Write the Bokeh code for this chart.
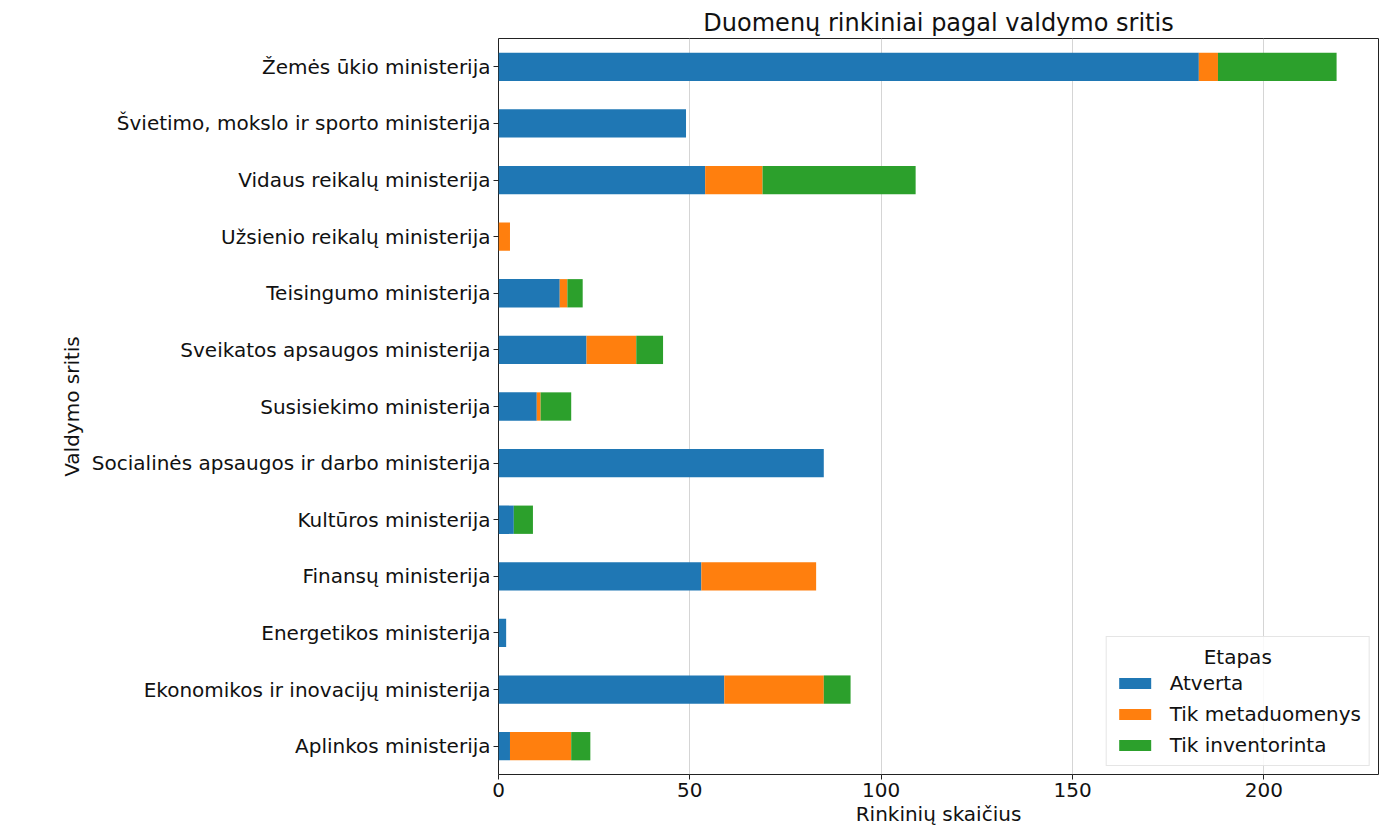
from bokeh.plotting import figure
from bokeh.models import FactorRange, Range1d, Legend, LegendItem, ColumnDataSource, FixedTicker
from bokeh.embed import file_html
from bokeh.resources import INLINE

# Data (top to bottom as displayed)
ministries = [
    "Žemės ūkio ministerija",
    "Švietimo, mokslo ir sporto ministerija",
    "Vidaus reikalų ministerija",
    "Užsienio reikalų ministerija",
    "Teisingumo ministerija",
    "Sveikatos apsaugos ministerija",
    "Susisiekimo ministerija",
    "Socialinės apsaugos ir darbo ministerija",
    "Kultūros ministerija",
    "Finansų ministerija",
    "Energetikos ministerija",
    "Ekonomikos ir inovacijų ministerija",
    "Aplinkos ministerija",
]
atverta =          [183, 49, 54, 0, 16, 23, 10, 85, 4, 53, 2, 59, 3]
tik_metaduomenys = [5,   0,  15, 3, 2,  13, 1,  0,  0, 30, 0, 26, 16]
tik_inventorinta = [31,  0,  40, 0, 4,  7,  8,  0,  5, 0,  0, 7,  5]
stages = ["Atverta", "Tik metaduomenys", "Tik inventorinta"]
colors = ["#1f77b4", "#ff7f0e", "#2ca02c"]
x_ticks = [0, 50, 100, 150, 200]
legend_title = "Etapas"

FONT = "DejaVu Sans"

source = ColumnDataSource(dict(
    ministry=ministries,
    Atverta=atverta,
    **{"Tik metaduomenys": tik_metaduomenys, "Tik inventorinta": tik_inventorinta},
))

p = figure(
    width=1380, height=828,
    y_range=FactorRange(factors=list(reversed(ministries))),
    x_range=Range1d(0, 229.95),
    output_backend="svg", toolbar_location=None,
    min_border_left=498, min_border_right=2, min_border_top=38, min_border_bottom=54,
    title="Duomenų rinkiniai pagal valdymo sritis",
)

renderers = p.hbar_stack(stages, y="ministry", height=0.5, color=colors, source=source,
                         line_color=None)

p.title.text_font = FONT
p.title.text_font_size = "24px"
p.title.text_font_style = "normal"
p.title.align = "center"
p.title.text_color = "#111111"
p.title.standoff = 4

p.xaxis.ticker = FixedTicker(ticks=x_ticks)
p.xaxis.axis_label = "Rinkinių skaičius"
p.yaxis.axis_label = "Valdymo sritis"
for ax in (p.xaxis[0], p.yaxis[0]):
    ax.axis_label_text_font = FONT
    ax.axis_label_text_font_size = "20px"
    ax.axis_label_text_font_style = "normal"
    ax.axis_label_text_color = "#111111"
    ax.major_label_text_font = FONT
    ax.major_label_text_font_size = "20px"
    ax.major_label_text_color = "#111111"
    ax.axis_line_color = None
    ax.major_tick_line_color = "#222222"
    ax.major_tick_out = 5
    ax.major_tick_in = 0
    ax.minor_tick_line_color = None
    ax.major_label_standoff = 3
p.xaxis.axis_label_standoff = 2
p.yaxis.axis_label_standoff = 5

p.outline_line_color = "#222222"
p.outline_line_width = 1
p.xgrid.grid_line_color = "#d5d5d5"
p.xgrid.grid_line_width = 1
p.ygrid.grid_line_color = None
p.background_fill_color = "white"
p.border_fill_color = "white"

legend = Legend(
    items=[LegendItem(label=s, renderers=[r]) for s, r in zip(stages, renderers)],
    location="bottom_right",
    title="\u00a0" * 14 + legend_title,  # non-breaking spaces centre the title
)
legend.title_text_font = FONT
legend.title_text_font_size = "20px"
legend.title_text_font_style = "normal"
legend.title_text_color = "#111111"
legend.label_text_font = FONT
legend.label_text_font_size = "20px"
legend.label_text_color = "#111111"
legend.glyph_width = 40
legend.glyph_height = 14
legend.label_height = 22
legend.spacing = 7
legend.padding = 8
legend.margin = 8
legend.border_line_color = "#cccccc"
legend.border_line_width = 1
legend.background_fill_alpha = 0.85
legend.label_standoff = 15
legend.title_standoff = 2
p.add_layout(legend, "center")

open("out.html", "w").write(file_html(p, INLINE))
